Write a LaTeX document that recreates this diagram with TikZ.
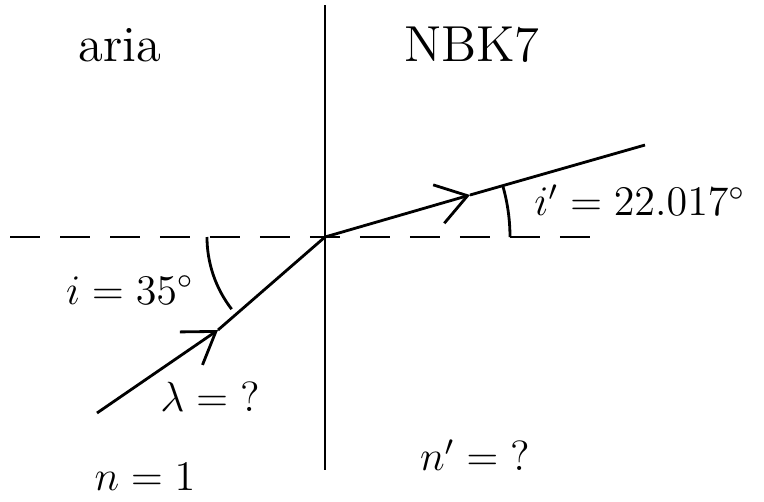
\documentclass[tikz,border=0pt]{standalone}
\usepackage{tikz}
\usetikzlibrary{arrows.meta}
\tikzset{
    interface/.style={thick},
    normalline/.style={thick,dash pattern=on 3mm off 2mm},
    ray/.style={thick},
    rayarrow/.style={->,thick},
    anglearc/.style={thick},
    lbl/.style={font=\Large},
    mathlbl/.style={font=\large}
}

\begin{document}
\begin{tikzpicture}[>={Straight Barb[length=3mm,width=4mm]}]
    \useasboundingbox (0,0) rectangle (7.64,5.01);
    % Points
    \coordinate (O) at (3.25,2.64);
    \coordinate (top) at (3.25,4.96);
    \coordinate (bottom) at (3.25,0.31);
    \coordinate (nleft) at (0.10,2.64);
    \coordinate (nright) at (5.95,2.64);
    \coordinate (inc) at (0.97,0.88);
    \coordinate (incmid) at (2.18,1.71);
    \coordinate (refr) at (6.45,3.56);
    \coordinate (refrmid) at (4.70,3.06);
    % Interface and normal
    \draw[interface] (top) -- (bottom);
    \draw[normalline] (nleft) -- (nright);
    % Incident ray
    \draw[rayarrow] (inc) -- (incmid);
    \draw[ray] (incmid) -- (O);
    % Refracted ray
    \draw[rayarrow] (O) -- (refrmid);
    \draw[ray] (refrmid) -- (refr);
    % Angles
    \draw[anglearc] (O) ++(180:1.18) arc (180:217.7:1.18);
    \draw[anglearc] (O) ++(0:1.85) arc (0:16:1.85);
    % Media
    \node[lbl] (air) at (1.20,4.56) {aria};
    \node[lbl] (glass) at (4.72,4.56) {NBK7};
    \node[mathlbl] (nair) at (1.45,0.24) {$n = 1$};
    \node[mathlbl] (nglass) at (4.75,0.46) {$n' = \mathord{?}$};
    % Angle values
    \node[mathlbl] (iang) at (1.30,2.11) {$i = 35^\circ$};
    \node[mathlbl,anchor=west] (rang) at (5.22,3.01) {$i' = 22.017^\circ$};
    \node[mathlbl] (lambda) at (2.10,1.04) {$\lambda = \mathord{?}$};
\end{tikzpicture}
\end{document}
